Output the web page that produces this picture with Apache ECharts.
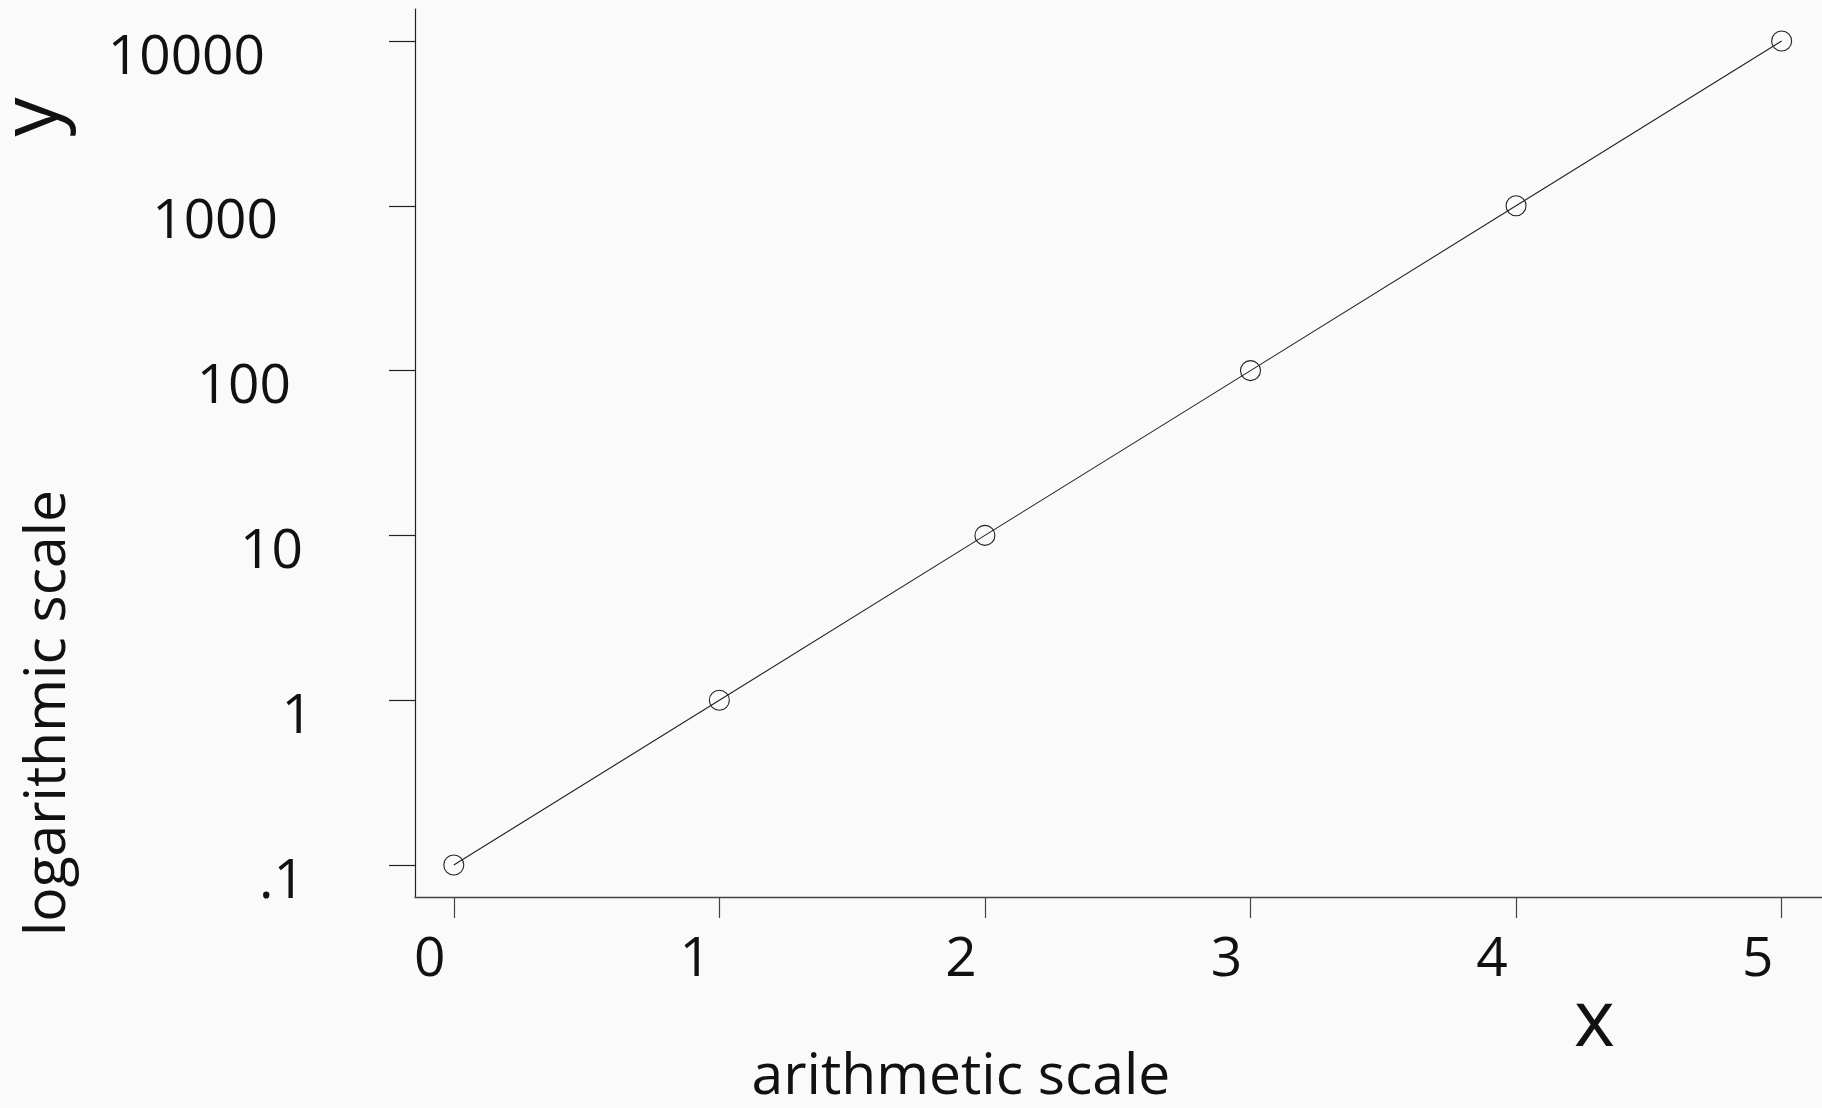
<!DOCTYPE html>
<html>
<head>
<meta charset="utf-8">
<script src="https://cdn.jsdelivr.net/npm/echarts@6/dist/echarts.min.js"></script>
<style>
html,body{margin:0;padding:0;background:#fafafa;}
#chart{width:1822px;height:1108px;}
</style>
</head>
<body>
<div id="chart"></div>
<script>
const xValues = [0, 1, 2, 3, 4, 5];
const yValues = [0.1, 1, 10, 100, 1000, 10000];
const xTickValues = [0, 1, 2, 3, 4, 5];
const xTickLabels = ['0', '1', '2', '3', '4', '5'];
const yTickValues = [0.1, 1, 10, 100, 1000, 10000];
const yTickLabels = ['.1', '1', '10', '100', '1000', '10000'];
const xAxisTitle = 'arithmetic scale';
const yAxisTitle = 'logarithmic scale';
const xLetter = 'x';
const yLetter = 'y';

const FONT = '"Open Sans", "Noto Sans", sans-serif';
const yLabelPadRight = [10, 2, 12, 24, 37, 50];

function yIndex(v) {
  let best = 0, bd = Infinity;
  yTickValues.forEach((t, i) => {
    const d = Math.abs(Math.log10(v) - Math.log10(t));
    if (d < bd) { bd = d; best = i; }
  });
  return best;
}
const yRich = {};
yTickLabels.forEach((l, i) => {
  yRich['p' + i] = {
    fontFamily: FONT, fontSize: 55, color: '#111',
    padding: [34, yLabelPadRight[i], 0, 0]
  };
});

const chart = echarts.init(document.getElementById('chart'), null, {renderer: 'canvas'});
chart.setOption({
  backgroundColor: '#fafafa',
  animation: false,
  grid: {left: 415, top: 9, right: 0, bottom: 211, containLabel: false, outerBoundsMode: 'none'},
  xAxis: {
    type: 'value',
    min: -0.146,
    max: 5.152,
    splitLine: {show: false},
    axisLine: {show: true, onZero: false, lineStyle: {color: '#444', width: 1.3}},
    axisTick: {show: true, length: 21, customValues: xTickValues, lineStyle: {color: '#444', width: 1.2}},
    axisLabel: {
      customValues: xTickValues,
      margin: 36,
      fontFamily: FONT, fontSize: 55, color: '#111',
      padding: [0, 48, 0, 0],
      formatter: function (v) {
        const i = xTickValues.indexOf(Math.round(v));
        return i >= 0 ? xTickLabels[i] : '';
      }
    }
  },
  yAxis: {
    type: 'log',
    logBase: 10,
    min: Math.pow(10, -1.194),
    max: Math.pow(10, 4.194),
    splitLine: {show: false},
    axisLine: {show: true, onZero: false, lineStyle: {color: '#222', width: 1.2}},
    axisTick: {show: true, length: 26, customValues: yTickValues, lineStyle: {color: '#222', width: 1.2}},
    axisLabel: {
      customValues: yTickValues,
      margin: 100,
      formatter: function (v) {
        const i = yIndex(v);
        return '{p' + i + '|' + yTickLabels[i] + '}';
      },
      rich: yRich
    }
  },
  graphic: [
    {type: 'text', x: 961, y: 1078,
      style: {text: xAxisTitle, fontFamily: FONT, fontSize: 57, fill: '#111', align: 'center', verticalAlign: 'middle'}},
    {type: 'text', x: 49, y: 713, rotation: Math.PI / 2,
      style: {text: yAxisTitle, fontFamily: FONT, fontSize: 57, fill: '#111', align: 'center', verticalAlign: 'middle'}},
    {type: 'text', left: 1574, top: 985,
      style: {text: xLetter, fontFamily: FONT, fontSize: 78, fill: '#111'}},
    {type: 'text', x: 35, y: 117, rotation: Math.PI / 2,
      style: {text: yLetter, fontFamily: FONT, fontSize: 78, fill: '#111', align: 'center', verticalAlign: 'middle'}}
  ],
  series: [{
    type: 'line',
    data: xValues.map((x, i) => [x, yValues[i]]),
    symbol: 'circle',
    symbolSize: 20,
    lineStyle: {color: '#222', width: 1.1},
    itemStyle: {color: 'rgba(0,0,0,0)', borderColor: '#222', borderWidth: 1.1},
    emphasis: {disabled: true}
  }]
});
</script>
</body>
</html>
